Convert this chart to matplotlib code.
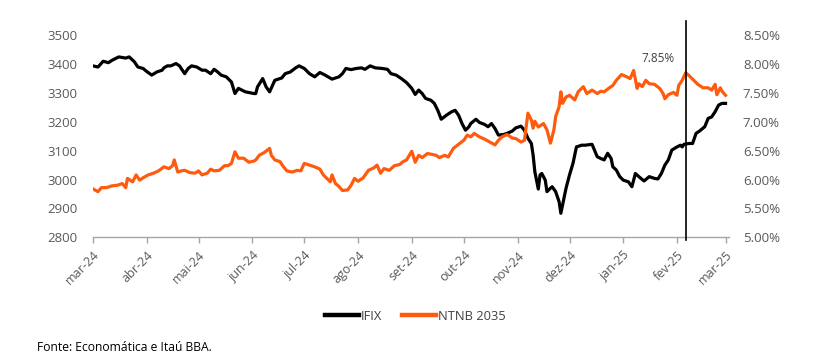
import matplotlib
matplotlib.use("Agg")
import matplotlib.pyplot as plt
import pandas as pd

plt.rcParams['font.family'] = ['Open Sans', 'DejaVu Sans']

# ---------------- data ----------------
ifix_dates = [
    "2024-03-01", "2024-03-04", "2024-03-07", "2024-03-10", "2024-03-12", "2024-03-16", "2024-03-20",
    "2024-03-22", "2024-03-25", "2024-03-27", "2024-03-30", "2024-04-01", "2024-04-04", "2024-04-07",
    "2024-04-10", "2024-04-11", "2024-04-13", "2024-04-15", "2024-04-18", "2024-04-20", "2024-04-23",
    "2024-04-25", "2024-04-27", "2024-04-30", "2024-05-03", "2024-05-05", "2024-05-08", "2024-05-10",
    "2024-05-12", "2024-05-14", "2024-05-17", "2024-05-20", "2024-05-22", "2024-05-24", "2024-05-28",
    "2024-06-02", "2024-06-03", "2024-06-04", "2024-06-07", "2024-06-09", "2024-06-11", "2024-06-14",
    "2024-06-18", "2024-06-20", "2024-06-23", "2024-06-26", "2024-06-28", "2024-07-01", "2024-07-04",
    "2024-07-07", "2024-07-10", "2024-07-13", "2024-07-17", "2024-07-21", "2024-07-23", "2024-07-25",
    "2024-07-28", "2024-07-31", "2024-08-03", "2024-08-05", "2024-08-08", "2024-08-11", "2024-08-15",
    "2024-08-18", "2024-08-20", "2024-08-23", "2024-08-26", "2024-08-29", "2024-09-01", "2024-09-03",
    "2024-09-05", "2024-09-07", "2024-09-09", "2024-09-12", "2024-09-14", "2024-09-16", "2024-09-18",
    "2024-09-21", "2024-09-24", "2024-09-26", "2024-09-28", "2024-09-30", "2024-10-02", "2024-10-04",
    "2024-10-05", "2024-10-08", "2024-10-10", "2024-10-13", "2024-10-15", "2024-10-17", "2024-10-19",
    "2024-10-21", "2024-10-24", "2024-10-26", "2024-10-29", "2024-10-31", "2024-11-03", "2024-11-05",
    "2024-11-07", "2024-11-09", "2024-11-10", "2024-11-11", "2024-11-13", "2024-11-14", "2024-11-15",
    "2024-11-17", "2024-11-18", "2024-11-20", "2024-11-21", "2024-11-23", "2024-11-25", "2024-11-26",
    "2024-11-27", "2024-11-29", "2024-12-01", "2024-12-03", "2024-12-05", "2024-12-08", "2024-12-10",
    "2024-12-14", "2024-12-17", "2024-12-19", "2024-12-21", "2024-12-23", "2024-12-25", "2024-12-26",
    "2024-12-28", "2024-12-30", "2025-01-01", "2025-01-04", "2025-01-06", "2025-01-08", "2025-01-10",
    "2025-01-13", "2025-01-16", "2025-01-19", "2025-01-21", "2025-01-23", "2025-01-25", "2025-01-27",
    "2025-01-29", "2025-02-01", "2025-02-03", "2025-02-04", "2025-02-05", "2025-02-08", "2025-02-10",
    "2025-02-12", "2025-02-14", "2025-02-17", "2025-02-19", "2025-02-21", "2025-02-23", "2025-02-25",
    "2025-02-27", "2025-03-01",
]
ifix_values = [
    3394, 3390, 3410, 3405, 3413, 3425, 3421,
    3425, 3408, 3390, 3385, 3375, 3362, 3373,
    3379, 3387, 3394, 3394, 3402, 3394, 3367,
    3385, 3394, 3390, 3379, 3379, 3367, 3382,
    3373, 3362, 3356, 3338, 3298, 3316, 3304,
    3298, 3298, 3321, 3350, 3321, 3304, 3344,
    3352, 3367, 3373, 3387, 3394, 3385, 3367,
    3356, 3371, 3362, 3348, 3356, 3367, 3385,
    3381, 3385, 3387, 3382, 3394, 3387, 3385,
    3382, 3367, 3362, 3350, 3336, 3316, 3295,
    3310, 3298, 3281, 3275, 3264, 3240, 3209,
    3223, 3235, 3240, 3223, 3194, 3171, 3183,
    3194, 3209, 3198, 3191, 3183, 3194, 3177,
    3154, 3156, 3160, 3168, 3179, 3185, 3171,
    3143, 3125, 3085, 3027, 2967, 3016, 3021,
    2998, 2958, 2970, 2975, 2958, 2923, 2883,
    2912, 2970, 3016, 3056, 3113, 3119, 3119,
    3122, 3079, 3073, 3068, 3091, 3073, 3044,
    3033, 3010, 2998, 2992, 2975, 3021, 3010,
    2995, 3010, 3004, 3002, 3021, 3050, 3068,
    3102, 3113, 3119, 3113, 3122, 3125, 3125,
    3160, 3168, 3183, 3212, 3217, 3235, 3258,
    3264, 3264,
]

ntnb_dates = [
    "2024-03-01", "2024-03-04", "2024-03-06", "2024-03-09", "2024-03-12", "2024-03-15", "2024-03-18",
    "2024-03-20", "2024-03-21", "2024-03-24", "2024-03-26", "2024-03-28", "2024-03-30", "2024-04-02",
    "2024-04-05", "2024-04-08", "2024-04-11", "2024-04-14", "2024-04-16", "2024-04-17", "2024-04-19",
    "2024-04-21", "2024-04-23", "2024-04-26", "2024-04-29", "2024-05-01", "2024-05-03", "2024-05-06",
    "2024-05-08", "2024-05-10", "2024-05-13", "2024-05-16", "2024-05-18", "2024-05-20", "2024-05-22",
    "2024-05-24", "2024-05-27", "2024-05-30", "2024-06-02", "2024-06-03", "2024-06-05", "2024-06-08",
    "2024-06-11", "2024-06-12", "2024-06-14", "2024-06-17", "2024-06-19", "2024-06-21", "2024-06-24",
    "2024-06-27", "2024-06-29", "2024-07-01", "2024-07-04", "2024-07-07", "2024-07-10", "2024-07-12",
    "2024-07-14", "2024-07-16", "2024-07-17", "2024-07-19", "2024-07-21", "2024-07-23", "2024-07-26",
    "2024-07-28", "2024-07-30", "2024-08-01", "2024-08-04", "2024-08-07", "2024-08-10", "2024-08-12",
    "2024-08-14", "2024-08-16", "2024-08-19", "2024-08-22", "2024-08-25", "2024-08-27", "2024-08-29",
    "2024-09-01", "2024-09-03", "2024-09-05", "2024-09-07", "2024-09-10", "2024-09-12", "2024-09-15",
    "2024-09-17", "2024-09-20", "2024-09-22", "2024-09-25", "2024-09-28", "2024-10-01", "2024-10-03",
    "2024-10-05", "2024-10-07", "2024-10-10", "2024-10-13", "2024-10-16", "2024-10-19", "2024-10-21",
    "2024-10-23", "2024-10-26", "2024-10-29", "2024-10-31", "2024-11-03", "2024-11-05", "2024-11-07",
    "2024-11-09", "2024-11-10", "2024-11-11", "2024-11-13", "2024-11-16", "2024-11-18", "2024-11-20",
    "2024-11-22", "2024-11-23", "2024-11-25", "2024-11-26", "2024-11-27", "2024-11-29", "2024-12-01",
    "2024-12-04", "2024-12-06", "2024-12-09", "2024-12-11", "2024-12-14", "2024-12-17", "2024-12-19",
    "2024-12-21", "2024-12-24", "2024-12-26", "2024-12-28", "2024-12-31", "2025-01-03", "2025-01-05",
    "2025-01-07", "2025-01-09", "2025-01-10", "2025-01-12", "2025-01-14", "2025-01-16", "2025-01-19",
    "2025-01-22", "2025-01-24", "2025-01-25", "2025-01-27", "2025-01-30", "2025-02-01", "2025-02-02",
    "2025-02-04", "2025-02-06", "2025-02-08", "2025-02-10", "2025-02-13", "2025-02-16", "2025-02-19",
    "2025-02-21", "2025-02-23", "2025-02-24", "2025-02-26", "2025-02-27", "2025-03-01",
]
ntnb_values = [
    5.84, 5.79, 5.86, 5.86, 5.89, 5.90, 5.93,
    5.86, 6.02, 5.96, 6.08, 5.99, 6.03, 6.08,
    6.11, 6.15, 6.22, 6.19, 6.24, 6.34, 6.13,
    6.15, 6.16, 6.12, 6.11, 6.15, 6.08, 6.11,
    6.18, 6.15, 6.16, 6.24, 6.24, 6.28, 6.48,
    6.37, 6.37, 6.30, 6.32, 6.34, 6.42, 6.47,
    6.54, 6.42, 6.34, 6.31, 6.22, 6.15, 6.13,
    6.16, 6.15, 6.28, 6.25, 6.22, 6.18, 6.08,
    6.02, 5.96, 6.08, 5.93, 5.88, 5.81, 5.82,
    5.90, 6.02, 5.97, 6.03, 6.16, 6.20, 6.25,
    6.11, 6.19, 6.16, 6.24, 6.26, 6.31, 6.34,
    6.49, 6.30, 6.42, 6.38, 6.45, 6.44, 6.42,
    6.38, 6.42, 6.39, 6.54, 6.61, 6.68, 6.77,
    6.74, 6.80, 6.74, 6.70, 6.65, 6.60, 6.68,
    6.74, 6.78, 6.72, 6.71, 6.65, 6.68, 7.15,
    7.03, 6.89, 7.01, 6.91, 6.97, 6.86, 6.63,
    6.86, 7.09, 7.26, 7.52, 7.32, 7.43, 7.46,
    7.38, 7.52, 7.61, 7.49, 7.55, 7.49, 7.53,
    7.52, 7.59, 7.63, 7.72, 7.82, 7.78, 7.75,
    7.89, 7.58, 7.66, 7.61, 7.72, 7.66, 7.65,
    7.58, 7.49, 7.40, 7.47, 7.51, 7.46, 7.63,
    7.72, 7.85, 7.80, 7.74, 7.65, 7.59, 7.59,
    7.55, 7.65, 7.47, 7.59, 7.53, 7.46,
]

month_ticks = ["2024-03-01", "2024-04-01", "2024-05-01", "2024-06-01", "2024-07-01", "2024-08-01",
               "2024-09-01", "2024-10-01", "2024-11-01", "2024-12-01", "2025-01-01", "2025-02-01",
               "2025-03-01"]
month_labels = ["mar-24", "abr-24", "mai-24", "jun-24", "jul-24", "ago-24", "set-24", "out-24",
                "nov-24", "dez-24", "jan-25", "fev-25", "mar-25"]

left_ticks = [2800, 2900, 3000, 3100, 3200, 3300, 3400, 3500]
right_ticks = [5.00, 5.50, 6.00, 6.50, 7.00, 7.50, 8.00, 8.50]

marker_date = "2025-02-06"
marker_value = 7.85
marker_label = "7.85%"

series_names = ["IFIX", "NTNB 2035"]
source_text = "Fonte: Economática e Itaú BBA."

# ---------------- plotting ----------------
BLACK = "#000000"
ORANGE = "#FF5B0F"
TXT = "#595959"

fig = plt.figure(figsize=(8.36, 3.60), dpi=100)
ax = fig.add_axes([0.111, 0.341, 0.761, 0.561])
ax2 = ax.twinx()

x1 = pd.to_datetime(ifix_dates)
x2 = pd.to_datetime(ntnb_dates)

l1, = ax.plot(x1, ifix_values, color=BLACK, lw=2.3, solid_joinstyle='round', zorder=3,
              label=series_names[0])
l2, = ax2.plot(x2, ntnb_values, color=ORANGE, lw=2.3, solid_joinstyle='round', zorder=3,
               label=series_names[1])

ax.set_ylim(left_ticks[0], left_ticks[-1])
ax2.set_ylim(right_ticks[0], right_ticks[-1])
ax.set_yticks(left_ticks)
ax.set_yticklabels([str(v) for v in left_ticks])
ax2.set_yticks(right_ticks)
ax2.set_yticklabels([f"{v:.2f}%" for v in right_ticks])

xt = pd.to_datetime(month_ticks)
ax.set_xlim(xt[0], xt[-1] + pd.Timedelta(days=2))
ax.set_xticks(xt)
ax.set_xticklabels(month_labels, rotation=45, ha='right', rotation_mode='anchor')

for a in (ax, ax2):
    for s in ("top", "left", "right", "bottom"):
        a.spines[s].set_visible(False)
ax.spines["bottom"].set_visible(True)
ax.spines["bottom"].set_color("#A6A6A6")
ax.spines["bottom"].set_linewidth(1.0)

ax.tick_params(axis='y', length=0, pad=11, labelsize=9.5, labelcolor=TXT)
ax2.tick_params(axis='y', length=0, pad=10, labelsize=9.5, labelcolor=TXT)
ax.tick_params(axis='x', length=4, width=1.0, color="#A6A6A6", direction='out',
               pad=4, labelsize=9, labelcolor=TXT)

# vertical marker line and label
md = pd.Timestamp(marker_date)
ax2.plot([md, md], [right_ticks[0] - 0.05, right_ticks[-1] + 0.24], color=BLACK, lw=1.2,
         clip_on=False, zorder=4)
ax2.annotate(marker_label, xy=(md, marker_value), xytext=(-8, 10.5), textcoords='offset points',
             ha='right', va='center', fontsize=8.5, color="#404040")

# legend
fig.legend(handles=[l1, l2], labels=series_names, loc='center', bbox_to_anchor=(0.497, 0.122),
           ncol=2, frameon=False, fontsize=9.3, handlelength=2.6, handletextpad=0.2,
           columnspacing=1.5, labelcolor="#404040")
for h in fig.legends[0].legend_handles:
    h.set_linewidth(3.2)

fig.text(0.044, 0.036, source_text, fontsize=8.7, color="#000000", ha='left', va='center')

fig.savefig("out.png", dpi=100)
